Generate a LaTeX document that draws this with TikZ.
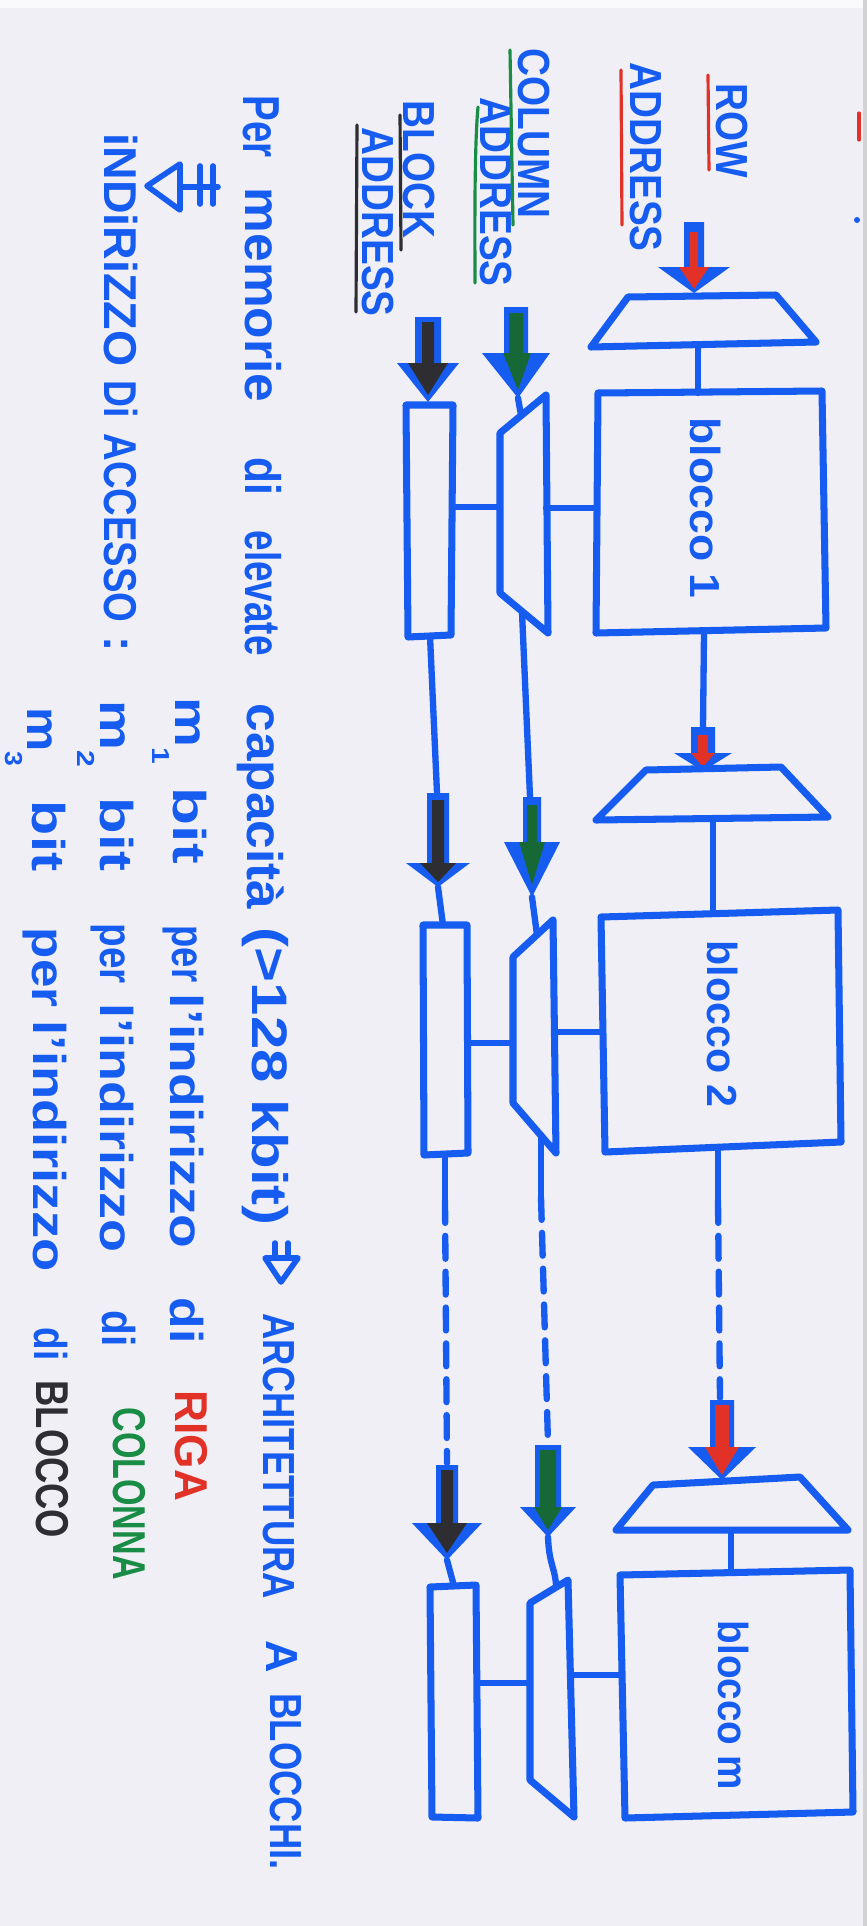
\documentclass[tikz,border=0pt]{standalone}
\usepackage{fontspec}
\setmainfont{Liberation Sans}
\definecolor{paper}{RGB}{239,239,245}
\definecolor{penblue}{RGB}{22,92,240}
\definecolor{penred}{RGB}{226,50,40}
\definecolor{pengreen}{RGB}{25,140,70}
\definecolor{arrgreen}{RGB}{22,105,55}
\definecolor{penblack}{RGB}{45,45,50}
\newcommand{\lowidx}[1]{\raisebox{-6.5pt}{\fontsize{7}{7}\selectfont #1}}

\begin{document}
\begin{tikzpicture}[x=0.1mm, y=-0.1mm,
  pen/.style={draw=penblue, line width=2pt, line join=round, line cap=round},
  wire/.style={draw=penblue, line width=1.8pt, line cap=round},
  brokenline/.style={wire, dash pattern=on 6.5pt off 3.7pt},
  ul/.style={line width=0.9pt, line cap=round},
  hand/.style={rotate=-90, anchor=base west, inner sep=0pt, text=penblue},
  addrlbl/.style={hand, font=\fontsize{12.8}{14}\selectfont\bfseries, xscale=0.86},
  blklbl/.style={hand, font=\fontsize{11.95}{13}\selectfont\bfseries},
  wordlc/.style={hand, font=\fontsize{14.2}{16}\selectfont\bfseries},
  worduc/.style={hand, font=\fontsize{12.8}{14}\selectfont\bfseries},
  listword/.style={hand, font=\fontsize{13.1}{15}\selectfont\bfseries}]
\useasboundingbox (0,0) rectangle (867,1926);
\fill[paper] (0,0) rectangle (867,1926);
\fill[white!70!paper] (0,0) rectangle (867,8);
\fill[black!12!paper] (863,0) rectangle (867,1926);
% bits of the next sketch at the page edge
\draw[ul, penred] (859,113) -- (859,140);
\fill[penblue] (857,220) circle (3);

% address labels
\node[addrlbl] (rowtxt) at (716,83) {ROW};
\node[addrlbl] (rowaddr) at (630,62) {ADDRESS};
\node[addrlbl] (coltxt) at (518,48) {COLUMN};
\node[addrlbl] (coladdr) at (480,97) {ADDRESS};
\node[addrlbl] (blktxt) at (403,100) {BLOCK};
\node[addrlbl] (blkaddr) at (362,127) {ADDRESS};
\draw[ul, penred] (708,75) -- (709,170);
\draw[ul, penred] (621,70) -- (622,225);
\draw[ul, pengreen] (510,50) -- (513,225);
\draw[ul, pengreen] (478,107) .. controls (474,150) and (475,250) .. (475,283);
\draw[ul, penblack] (400,115) -- (401,250);
\draw[ul, penblack] (357,125) -- (356,312);

% row address arrows
\fill[penblue] (684,222) -- (704,222) -- (704,267) -- (730,267) -- (694,293) -- (658,267) -- (684,267) -- cycle;
\fill[penred] (690,232) -- (698,232) -- (698,267) -- (709,267) -- (694,289) -- (679,267) -- (690,267) -- cycle;
\fill[penblue] (691,727) -- (715,727) -- (715,753) -- (732,753) -- (703,771) -- (674,753) -- (691,753) -- cycle;
\fill[penred] (698,735) -- (708,735) -- (708,753) -- (715,753) -- (703,767) -- (691,753) -- (698,753) -- cycle;
\fill[penblue] (710,1400) -- (734,1400) -- (734,1447) -- (756,1447) -- (722,1480) -- (688,1447) -- (710,1447) -- cycle;
\fill[penred] (715,1405) -- (729,1405) -- (729,1447) -- (739,1447) -- (722,1475) -- (705,1447) -- (715,1447) -- cycle;

% column address arrows
\fill[penblue] (504,307) -- (528,307) -- (528,353) -- (550,353) -- (518,398) -- (482,353) -- (504,353) -- cycle;
\fill[arrgreen] (509,313) -- (523,313) -- (523,353) -- (531,353) -- (518,390) -- (503,353) -- (509,353) -- cycle;
\fill[penblue] (523,797) -- (541,797) -- (541,842) -- (560,842) -- (532,897) -- (504,842) -- (523,842) -- cycle;
\fill[arrgreen] (527,805) -- (537,805) -- (537,842) -- (545,842) -- (532,885) -- (519,842) -- (527,842) -- cycle;
\fill[penblue] (535,1445) -- (561,1445) -- (561,1507) -- (576,1507) -- (548,1537) -- (520,1507) -- (535,1507) -- cycle;
\fill[arrgreen] (540,1450) -- (556,1450) -- (556,1507) -- (562,1507) -- (548,1530) -- (534,1507) -- (540,1507) -- cycle;

% block address arrows
\fill[penblue] (415,317) -- (441,317) -- (441,363) -- (459,363) -- (428,402) -- (397,363) -- (415,363) -- cycle;
\fill[penblack] (422,322) -- (434,322) -- (434,363) -- (448,363) -- (428,395) -- (408,363) -- (422,363) -- cycle;
\fill[penblue] (427,793) -- (449,793) -- (449,863) -- (470,863) -- (438,887) -- (406,863) -- (427,863) -- cycle;
\fill[penblack] (432,800) -- (444,800) -- (444,863) -- (456,863) -- (438,882) -- (420,863) -- (432,863) -- cycle;
\fill[penblue] (436,1465) -- (458,1465) -- (458,1523) -- (482,1523) -- (447,1560) -- (412,1523) -- (436,1523) -- cycle;
\fill[penblack] (441,1470) -- (453,1470) -- (453,1523) -- (467,1523) -- (447,1553) -- (427,1523) -- (441,1523) -- cycle;

% row decoders
\draw[pen] (628,297) -- (776,295) -- (816,342) -- (591,347) -- cycle;
\draw[pen] (646,770) -- (781,767) -- (828,817) -- (596,820) -- cycle;
\draw[pen] (653,1485) -- (800,1477) -- (848,1530) -- (616,1530) -- cycle;

% memory blocks
\draw[pen] (598,393) -- (822,391) -- (826,628) -- (596,633) -- cycle;
\draw[pen] (601,917) -- (838,910) -- (841,1142) -- (605,1152) -- cycle;
\draw[pen] (620,1575) -- (850,1570) -- (853,1812) -- (625,1818) -- cycle;
\node[blklbl, xscale=1.06] (blk1) at (690,417) {blocco 1};
\node[blklbl, xscale=0.98] (blk2) at (707,940) {blocco 2};
\node[blklbl, xscale=0.92] (blkm) at (718,1620) {blocco m};

% column decoders
\draw[pen] (546,395) -- (500,433) -- (500,593) -- (548,633) -- cycle;
\draw[pen] (553,920) -- (513,957) -- (513,1103) -- (556,1153) -- cycle;
\draw[pen] (568,1580) -- (530,1603) -- (530,1780) -- (574,1817) -- cycle;

% block address registers
\draw[pen] (406,405) -- (453,405) -- (451,635) -- (408,637) -- cycle;
\draw[pen] (423,925) -- (467,925) -- (468,1153) -- (424,1155) -- cycle;
\draw[pen] (430,1587) -- (476,1585) -- (478,1818) -- (432,1817) -- cycle;

% attach points
\coordinate (rd1) at (698,345);   \coordinate (b1in) at (698,393);
\coordinate (b1out) at (704,633); \coordinate (r2top) at (703,727);
\coordinate (rd2) at (713,820);   \coordinate (b2in) at (713,913);
\coordinate (b2out) at (718,1148);\coordinate (r2gap) at (718,1200);
\coordinate (r3top) at (720,1398);
\coordinate (rd3) at (731,1530);  \coordinate (bmin) at (731,1573);
\coordinate (c1tip) at (518,398); \coordinate (cd1in) at (521,415);
\coordinate (cd1r) at (546,508);  \coordinate (b1l) at (597,508);
\coordinate (cd1out) at (522,612);\coordinate (c2top) at (530,797);
\coordinate (c2tip) at (532,897); \coordinate (cd2in) at (537,935);
\coordinate (cd2r) at (556,1032); \coordinate (b2l) at (603,1032);
\coordinate (cd2out) at (541,1135);\coordinate (c2gap) at (541,1197);
\coordinate (c3top) at (548,1443);
\coordinate (c3tip) at (548,1537);\coordinate (cd3in) at (556,1587);
\coordinate (cd3r) at (572,1675); \coordinate (bml) at (621,1675);
\coordinate (ra1r) at (452,507);  \coordinate (cd1l) at (500,507);
\coordinate (ra2r) at (468,1043); \coordinate (cd2l) at (513,1043);
\coordinate (ra3r) at (478,1683); \coordinate (cd3l) at (530,1683);
\coordinate (ra1out) at (430,636);\coordinate (k2top) at (437,793);
\coordinate (k2tip) at (438,887); \coordinate (ra2in) at (443,925);
\coordinate (ra2out) at (445,1154);\coordinate (k2gap) at (445,1200);
\coordinate (k3top) at (447,1463);
\coordinate (k3tip) at (447,1560);\coordinate (ra3in) at (454,1586);

% connections
\draw[wire] (rd1) -- (b1in);
\draw[wire] (b1out) -- (r2top);
\draw[wire] (rd2) -- (b2in);
\draw[wire] (b2out) -- (r2gap);
\draw[brokenline] (r2gap) -- (r3top);
\draw[wire] (rd3) -- (bmin);
\draw[wire] (c1tip) -- (cd1in);
\draw[wire] (cd1r) -- (b1l);
\draw[wire] (cd1out) -- (c2top);
\draw[wire] (c2tip) -- (cd2in);
\draw[wire] (cd2r) -- (b2l);
\draw[wire] (cd2out) -- (c2gap);
\draw[brokenline] (c2gap) -- (c3top);
\draw[wire] (c3tip) .. controls (549,1565) and (556,1570) .. (cd3in);
\draw[wire] (cd3r) -- (bml);
\draw[wire] (ra1r) -- (cd1l);
\draw[wire] (ra2r) -- (cd2l);
\draw[wire] (ra3r) -- (cd3l);
\draw[wire] (ra1out) -- (k2top);
\draw[wire] (k2tip) -- (ra2in);
\draw[wire] (ra2out) -- (k2gap);
\draw[brokenline] (k2gap) -- (k3top);
\draw[wire] (k3tip) -- (ra3in);

% note under the sketch
\node[wordlc, font=\fontsize{14.8}{16}\selectfont\bfseries, xscale=0.74] (w1) at (243,95) {Per};
\node[wordlc, xscale=1.03] (w2) at (245,187) {memorie};
\node[wordlc, xscale=0.85] (w3) at (245,457) {di};
\node[wordlc, xscale=0.74] (w4) at (245,530) {elevate};
\node[wordlc, xscale=1.03] (w5) at (247,703) {capacità};
\node[wordlc, xscale=1.2] (w6) at (252,927) {(>128 kbit)};
\node[worduc, xscale=0.81] (w7) at (263,1313) {ARCHITETTURA};
\node[worduc] (w8) at (266,1640) {A};
\node[worduc, xscale=0.81] (w9) at (270,1693) {BLOCCHI.};
% implies signs
\draw[ul, penblue, line width=1.6pt, line join=round] (265,1258) -- (298,1258) -- (281,1282) -- cycle;
\draw[ul, penblue, line width=1.6pt] (275,1243) -- (275,1258) (288,1243) -- (288,1258);
\draw[ul, penblue, line width=1.6pt, line join=round] (180,164) -- (180,210) -- (147,186) -- cycle;
\draw[ul, penblue, line width=1.6pt] (180,187) -- (218,187) (200,166) -- (200,204) (213,166) -- (213,204);

\node[listword, xscale=1.01] (acc1) at (105,133) {iNDiRiZZO};
\node[listword, xscale=0.81] (acc2) at (105,380) {Di};
\node[listword, xscale=0.83] (acc3) at (105,433) {ACCESSO};
\node[listword] (acc4) at (105,636) {:};

\node[listword, xscale=1.22] (m1a) at (175,697) {m\lowidx{1}};
\node[listword, xscale=1.35] (m1b) at (173,787) {bit};
\node[listword, xscale=0.79] (m1c) at (172,925) {per};
\node[listword, xscale=1.2] (m1d) at (170,993) {l’indirizzo};
\node[listword, xscale=1.12] (m1e) at (170,1297) {di};
\node[listword, text=penred, xscale=0.96] (m1f) at (175,1390) {RIGA};

\node[listword, xscale=1.22] (m2a) at (100,700) {m\lowidx{2}};
\node[listword, xscale=1.3] (m2b) at (100,797) {bit};
\node[listword, xscale=0.84] (m2c) at (100,923) {per};
\node[listword, xscale=1.17] (m2d) at (100,1003) {l’indirizzo};
\node[listword, xscale=0.88] (m2e) at (102,1310) {di};
\node[listword, text=pengreen, xscale=0.74] (m2f) at (113,1407) {COLONNA};

\node[listword, xscale=1.08] (m3a) at (28,707) {m\lowidx{3}};
\node[listword, xscale=1.25] (m3b) at (32,800) {bit};
\node[listword, xscale=1.11] (m3c) at (32,927) {per};
\node[listword, xscale=1.18] (m3d) at (33,1020) {l’indirizzo};
\node[listword, xscale=0.8] (m3e) at (35,1327) {di};
\node[listword, text=penblack, xscale=0.79] (m3f) at (37,1380) {BLOCCO};
\end{tikzpicture}
\end{document}
